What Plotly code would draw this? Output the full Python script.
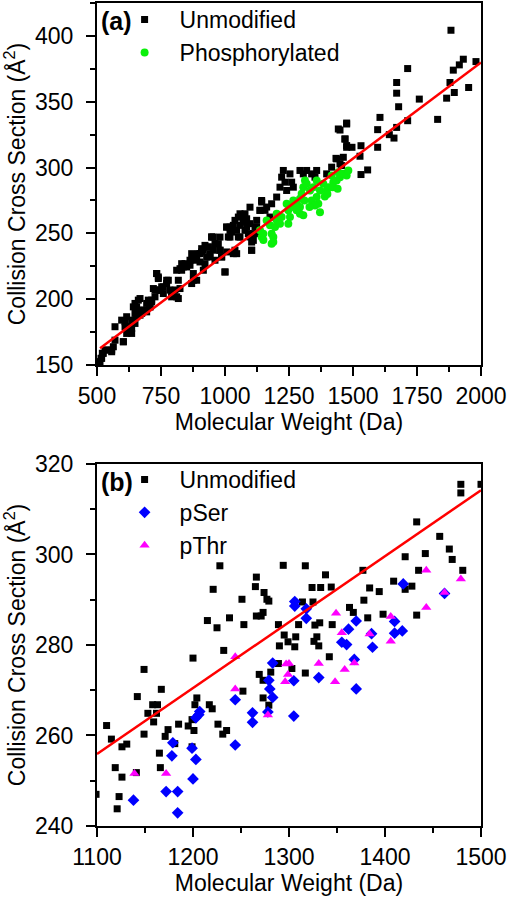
import plotly.graph_objects as go

# ---------------- Panel (a) data ----------------
a_unmod_mw = [515.6, 520.8, 511.7, 531.3, 557.3, 570.3, 602.9, 596.4, 615.9, 609.4, 622.4, 628.9, 635.4, 635.4,
              648.4, 654.9, 641.9, 668.0, 648.4, 661.5, 674.5, 687.5, 694.0, 700.5, 707.0, 713.5, 720.1, 726.6,
              733.1, 739.6, 733.1, 746.1, 752.6, 759.1, 772.1, 785.2, 791.7, 804.7, 811.2, 817.7, 824.2, 817.7,
              830.7, 837.2, 843.7, 850.3, 863.3, 869.8, 876.3, 882.8, 889.3, 895.8, 902.3, 908.8, 915.4, 921.9,
              928.4, 934.9, 947.9, 954.4, 941.4, 960.9, 973.9, 980.5, 987.0, 1000.0, 1006.5, 1013.0, 1019.5,
              1026.0, 1039.0, 1045.6, 1052.1, 1058.6, 1065.1, 1071.6, 1078.1, 1084.6, 1091.1, 1097.6, 1104.1,
              1110.7, 1117.2, 1123.7, 1130.2, 1136.7, 1143.2,
              518.2, 524.7, 537.8, 563.8, 570.3, 557.3, 602.9, 609.4, 615.9, 635.4, 641.9, 648.4, 654.9, 661.4,
              668.0, 681.0, 694.0, 707.0, 713.5, 726.5, 733.1, 739.6, 746.1, 759.1, 772.1, 778.6, 791.6, 798.2,
              811.2, 824.2, 830.7, 850.2, 863.3, 869.8, 876.3, 889.3, 902.3, 908.8, 921.8, 934.9, 947.9, 960.9,
              980.4, 986.9, 1000.0, 1006.5, 1019.5, 1032.5, 1039.0, 1052.1, 1058.6, 1071.6, 1084.6, 1104.1, 1097.6,
              915.3, 941.4, 954.4, 980.4, 1006.5, 1019.5, 1032.5, 1045.5, 1058.5, 1071.6, 1078.1, 1097.6, 1104.1,
              1110.6, 1123.6, 1136.7, 1143.2, 1156.2, 1162.7, 1175.7, 1182.2, 1201.8, 1214.8, 1221.3, 1227.8,
              1234.3, 1240.8, 1253.8, 1260.4, 1266.9, 1292.9, 1305.9, 1319.0, 1338.5, 1351.5, 1358.0, 1397.1,
              1416.6, 1436.1, 1449.1, 1462.1, 1442.6, 1475.2, 1468.7, 1475.2,
              1882.7, 1980.4, 1930.9, 1915.3, 1891.8, 1878.8, 1895.7, 1865.8, 1951.7, 1830.6, 1759.0, 1713.5,
              1670.5, 1670.5, 1678.3, 1713.5, 1670.5, 1660.1, 1641.9, 1596.3, 1605.4, 1596.3, 1557.2, 1531.2,
              1527.3, 1531.2, 1496.0, 1475.2, 1468.7, 1449.2, 1475.2, 1433.5, 1455.7, 1462.2]
a_unmod_ccs = [155.1, 158.9, 152.6, 161.4, 161.4, 179.1, 167.7, 184.1, 186.7, 182.9, 175.3, 179.1, 181.6, 174.0,
               181.6, 186.7, 194.2, 200.5, 196.8, 191.7, 189.2, 191.7, 196.8, 199.3, 194.2, 199.3, 208.1, 206.9,
               219.5, 215.7, 206.9, 206.9, 209.4, 204.3, 214.4, 206.9, 204.3, 206.9, 201.8, 200.5, 208.1, 214.4,
               222.0, 224.5, 227.0, 224.5, 225.8, 211.9, 219.5, 229.6, 232.1, 234.6, 228.3, 235.9, 222.0, 227.0,
               232.1, 239.7, 247.3, 237.2, 234.6, 229.6, 242.2, 237.2, 232.1, 220.7, 235.9, 247.3, 254.8,
               251.0, 237.2, 234.6, 247.3, 256.1, 263.7, 258.6, 252.3, 261.1, 249.8, 247.3, 237.2,
               244.7, 254.8, 259.9, 249.8, 267.5, 273.8,
               155.1, 158.9, 161.4, 163.9, 168.9, 160.1, 167.7, 179.1, 174.0, 177.8, 184.1, 189.2, 194.2, 199.3,
               187.9, 191.7, 190.4, 194.2, 198.0, 201.8, 219.5, 216.9, 206.8, 209.4, 211.9, 214.4, 201.8, 206.8,
               222.0, 223.2, 227.0, 225.8, 229.6, 234.6, 214.4, 214.4, 234.6, 238.4, 240.9, 239.7, 247.2, 242.2,
               247.2, 232.1, 220.7, 254.8, 252.3, 256.1, 259.9, 262.4, 264.9, 259.9, 254.8, 243.4, 269.9,
               237.2, 232.1, 247.2, 237.2, 254.8, 247.2, 234.6, 252.3, 247.2, 259.9, 264.9, 257.4, 237.2,
               249.8, 254.8, 267.5, 275.0, 267.5, 270.0, 262.4, 272.5, 277.6, 285.1, 292.7, 297.8,
               288.9, 282.6, 295.2, 288.9, 285.1, 297.8, 295.2, 297.8, 295.2, 292.7, 297.8, 295.2,
               300.3, 306.6, 302.8, 307.8, 329.3, 333.1, 321.7, 316.7,
               404.3, 380.5, 382.3, 378.0, 374.0, 364.6, 357.0, 352.7, 360.8, 336.6, 352.0, 375.2,
               364.6, 356.5, 346.2, 335.6, 330.5, 322.4, 325.0, 328.8, 338.1, 315.4, 298.2, 294.7,
               308.6, 316.6, 315.4, 315.4, 321.7, 328.5, 333.8, 307.0, 301.5, 295.2]

a_phos_mw = [1136.7, 1143.2, 1175.7, 1182.2, 1188.7, 1182.2, 1201.8, 1201.8, 1195.3, 1214.8, 1221.3, 1240.8,
             1247.3, 1253.8, 1260.4, 1266.9, 1279.9, 1292.9, 1299.4, 1292.9, 1305.9, 1312.4, 1319.0, 1332.0,
             1345.0, 1358.0, 1358.0, 1364.5, 1371.0, 1384.0, 1397.1, 1403.6, 1416.6, 1423.1, 1436.1, 1442.6,
             1449.1, 1462.1, 1475.2, 1481.7, 1292.9, 1305.9, 1338.5, 1351.5, 1279.9, 1247.3,
             1149.7, 1188.7, 1162.7, 1150.0, 1371.0, 1330.0, 1310.0, 1390.0, 1420.0, 1440.0, 1400.0]
a_phos_ccs = [252.3, 247.3, 256.1, 249.8, 247.3, 242.2, 264.9, 259.9, 254.8, 257.4, 262.4, 272.5,
              267.5, 262.4, 270.0, 275.0, 272.5, 276.3, 280.1, 270.0, 285.1, 290.2, 287.7, 282.6,
              285.1, 290.2, 277.6, 272.5, 282.6, 287.7, 282.6, 285.1, 293.9, 288.9, 290.2, 296.5,
              292.7, 295.2, 293.9, 297.8, 264.9, 263.7, 275.0, 271.2, 267.5, 257.4,
              249.8, 243.4, 259.8, 245.0, 266.0, 270.0, 275.0, 278.0, 285.0, 284.0, 280.0]

fit_a_mw = [512, 2000]
fit_a_ccs = [162.7, 379.8]

# ---------------- Panel (b) data ----------------
b_unmod_mw = [1099, 1110, 1115, 1119, 1121, 1123, 1126, 1126, 1131, 1141, 1142, 1149, 1149, 1153, 1158, 1159,
              1162, 1163, 1165, 1166, 1167, 1171, 1174, 1181, 1185, 1195, 1199, 1199, 1200, 1201, 1202, 1204,
              1215, 1217, 1220, 1221, 1225, 1226, 1228, 1231, 1232, 1235, 1238, 1251, 1252, 1253, 1265, 1266,
              1266, 1269, 1271, 1273, 1273, 1273, 1274, 1277, 1279, 1279, 1281, 1289, 1289, 1290, 1294, 1295,
              1299, 1303, 1306, 1307, 1310, 1314, 1317, 1317, 1324, 1325, 1327, 1326, 1329, 1331, 1332, 1333,
              1338, 1342, 1344, 1345, 1363, 1367, 1377, 1378, 1382, 1384, 1394, 1398, 1409, 1421, 1421, 1428,
              1433, 1433, 1435, 1442, 1457, 1467, 1470, 1479, 1479, 1481, 1500]
b_unmod_ccs = [247.0, 262.2, 259.2, 252.9, 243.8, 246.5, 257.5, 250.8, 258.1, 251.8, 268.6, 274.6, 260.3, 264.9,
               266.8, 263.0, 264.9, 266.8, 256.1, 252.9, 270.2, 259.8, 261.3, 258.2, 262.5, 262.1, 263.5, 257.5,
               277.1, 261.1, 266.8, 268.3, 285.4, 266.8, 265.9, 292.3, 283.8, 262.5, 297.5, 260.3, 278.8, 261.1,
               286.0, 290.1, 269.8, 284.5, 292.9, 286.4, 295.0, 273.5, 286.4, 287.2, 272.2, 268.3, 291.6, 290.1,
               289.7, 266.7, 274.0, 284.5, 275.9, 279.8, 297.6, 282.2, 280.7, 274.8, 279.6, 281.8, 284.5, 289.5,
               297.5, 273.8, 292.7, 289.5, 284.4, 280.8, 281.8, 279.8, 284.9, 292.7, 295.5, 277.4, 292.8, 284.5,
               288.3, 287.2, 296.5, 289.9, 286.0, 292.6, 291.8, 286.8, 294.1, 292.3, 299.5, 293.0, 307.2, 286.6,
               296.5, 300.2, 304.0, 301.2, 298.9, 315.5, 313.6, 296.5, 315.5]

b_pser_mw = [1138, 1172, 1179, 1178, 1184, 1184, 1199, 1200, 1203, 1203, 1206, 1207, 1244, 1244, 1262, 1262,
             1278, 1279, 1280, 1283, 1283, 1305, 1305, 1306, 1306, 1318, 1318, 1331, 1355, 1360, 1362, 1368,
             1370, 1370, 1386, 1387, 1410, 1410, 1418, 1419, 1462]
b_pser_ccs = [245.7, 247.6, 258.4, 255.5, 247.6, 242.9, 257.2, 250.4, 254.7, 263.9, 264.6, 265.3, 267.9, 257.9,
              265.0, 262.9, 265.2, 272.2, 270.3, 268.4, 276.0, 272.1, 264.3, 289.6, 288.6, 288.0, 285.9, 272.8,
              280.6, 280.1, 283.5, 276.8, 285.3, 270.3, 282.5, 279.5, 285.2, 282.6, 283.1, 293.5, 291.4]

b_pthr_mw = [1139, 1172, 1244, 1244, 1278, 1296, 1297, 1299, 1300, 1331, 1348, 1349, 1355, 1358, 1368, 1384,
             1406, 1406, 1443, 1443, 1462, 1479]
b_pthr_ccs = [251.6, 251.6, 277.4, 270.3, 264.5, 271.9, 275.8, 273.5, 275.9, 275.9, 271.9, 287.0, 282.7, 274.6,
              276.0, 282.4, 286.3, 280.8, 296.5, 288.3, 291.6, 294.6]

fit_b_mw = [1100, 1500]
fit_b_ccs = [255.9, 314.2]

# ---------------- Figure ----------------
FONT = "Arial, Liberation Sans, sans-serif"
FS = 23
ytitle = "Collision Cross Section (Å<sup>2</sup>)"
xtitle = "Molecular Weight (Da)"

fig = go.Figure()

fig.add_trace(go.Scatter(x=a_unmod_mw, y=a_unmod_ccs, mode="markers", name="Unmodified",
                         marker=dict(symbol="square", size=7, color="black"),
                         xaxis="x", yaxis="y", legend="legend"))
fig.add_trace(go.Scatter(x=a_phos_mw, y=a_phos_ccs, mode="markers", name="Phosphorylated",
                         marker=dict(symbol="circle", size=8, color="#0af00a"),
                         xaxis="x", yaxis="y", legend="legend"))
fig.add_trace(go.Scatter(x=fit_a_mw, y=fit_a_ccs, mode="lines", showlegend=False,
                         line=dict(color="#ff0000", width=2.5), xaxis="x", yaxis="y"))

fig.add_trace(go.Scatter(x=b_unmod_mw, y=b_unmod_ccs, mode="markers", name="Unmodified",
                         marker=dict(symbol="square", size=7, color="black"),
                         xaxis="x2", yaxis="y2", legend="legend2"))
fig.add_trace(go.Scatter(x=b_pser_mw, y=b_pser_ccs, mode="markers", name="pSer",
                         marker=dict(symbol="diamond", size=9, color="#0000ff"),
                         xaxis="x2", yaxis="y2", legend="legend2"))
fig.add_trace(go.Scatter(x=b_pthr_mw, y=b_pthr_ccs, mode="markers", name="pThr",
                         marker=dict(symbol="triangle-up", size=9, color="#ff00ff"),
                         xaxis="x2", yaxis="y2", legend="legend2"))
fig.add_trace(go.Scatter(x=fit_b_mw, y=fit_b_ccs, mode="lines", showlegend=False,
                         line=dict(color="#ff0000", width=2.5), xaxis="x2", yaxis="y2"))

axis_common = dict(showline=True, linecolor="black", linewidth=2, mirror=True,
                   ticks="outside", ticklen=9, tickwidth=2, tickcolor="black",
                   showgrid=False, zeroline=False,
                   tickfont=dict(family=FONT, size=FS, color="black"))

fig.update_layout(
    width=507, height=899,
    margin=dict(l=97, r=26, t=3, b=73, autoexpand=False),
    paper_bgcolor="white", plot_bgcolor="white",
    font=dict(family=FONT, size=FS, color="black"),
    xaxis=dict(domain=[0, 1], anchor="y", range=[500, 2000], tickvals=[500, 750, 1000, 1250, 1500, 1750, 2000],
               minor=dict(dtick=125, tick0=500, ticks="outside", ticklen=5, tickwidth=2, tickcolor="black"),
               title=dict(text=xtitle, font=dict(family=FONT, size=FS), standoff=0), **axis_common),
    yaxis=dict(domain=[0.5601, 1], anchor="x", range=[150, 425], tickvals=[150, 200, 250, 300, 350, 400],
               minor=dict(dtick=25, tick0=150, ticks="outside", ticklen=5, tickwidth=2, tickcolor="black"),
               ticklabelstandoff=8,
               title=dict(text=ytitle, font=dict(family=FONT, size=FS), standoff=4), **axis_common),
    xaxis2=dict(domain=[0, 1], anchor="y2", range=[1100, 1500], tickvals=[1100, 1200, 1300, 1400, 1500],
                minor=dict(dtick=50, tick0=1100, ticks="outside", ticklen=5, tickwidth=2, tickcolor="black"),
                title=dict(text=xtitle, font=dict(family=FONT, size=FS), standoff=0), **axis_common),
    yaxis2=dict(domain=[0, 0.4399], anchor="x2", range=[240, 320], tickvals=[240, 260, 280, 300, 320],
                minor=dict(dtick=10, tick0=240, ticks="outside", ticklen=5, tickwidth=2, tickcolor="black"),
                ticklabelstandoff=8,
                title=dict(text=ytitle, font=dict(family=FONT, size=FS), standoff=4), **axis_common),
    legend=dict(x=0.0328, y=1.006, xanchor="left", yanchor="top", bgcolor="rgba(0,0,0,0)",
                font=dict(family=FONT, size=FS), itemwidth=60, tracegroupgap=0),
    legend2=dict(x=0.0328, y=0.4472, xanchor="left", yanchor="top", bgcolor="rgba(0,0,0,0)",
                 font=dict(family=FONT, size=FS), itemwidth=60, tracegroupgap=0),
    annotations=[
        dict(text="<b>(a)</b>", xref="paper", yref="paper", x=0.0052, y=0.9782, xanchor="left", yanchor="middle",
             showarrow=False, font=dict(family=FONT, size=25)),
        dict(text="<b>(b)</b>", xref="paper", yref="paper", x=0.0052, y=0.4184, xanchor="left", yanchor="middle",
             showarrow=False, font=dict(family=FONT, size=25)),
    ],
)

fig.write_html("out.html", config={"displayModeBar": False},
               post_script="document.body.style.margin='0px';")
